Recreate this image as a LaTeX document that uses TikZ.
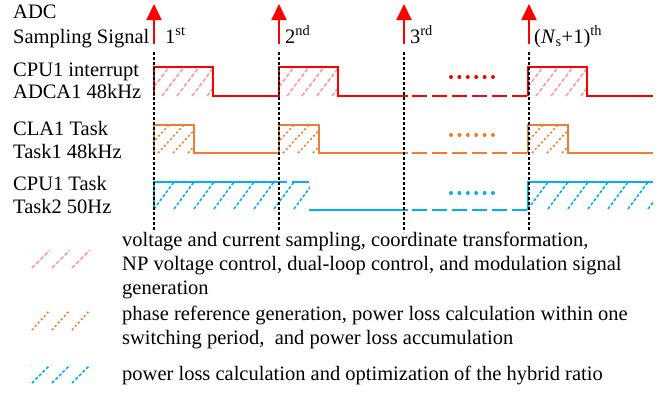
\documentclass[tikz,border=0pt]{standalone}
\usepackage{fontspec}
\setmainfont{Liberation Serif}
\usetikzlibrary{arrows.meta}
\definecolor{sigred}{HTML}{FF0000}
\definecolor{sigpink}{HTML}{FF9A9A}
\definecolor{sigorange}{HTML}{ED7D31}
\definecolor{sigblue}{HTML}{00B0F0}

% hatched area: style, left, top, right, bottom, spacing, slant
\newcommand{\hatchbox}[7]{%
  \begin{scope}
    \clip (#2,#3) rectangle (#4,#5);
    \pgfmathsetmacro\hfirst{#2-#7}
    \pgfmathsetmacro\hsecond{#2-#7+#6}
    \foreach \hx in {\hfirst,\hsecond,...,#4}
      \draw[#1] (\hx,#5) -- ++(#7,#3-#5);
  \end{scope}}

\begin{document}
\begin{tikzpicture}[x=1pt,y=-1pt,font=\fontsize{20.5}{24}\selectfont,
                    lbl/.style={anchor=base west,inner sep=0pt},
                    sig/.style={line width=2pt},
                    gap/.style={line width=2pt,dash pattern=on 15pt off 5pt},
                    tick/.style={black,line width=1.6pt,dash pattern=on 2.5pt off 2.5pt},
                    adc/.style={sigred,line width=2pt,-{Triangle[width=15pt,length=16pt]}},
                    redhatch/.style={sigpink,line width=1.6pt,dash pattern=on 4pt off 2pt},
                    orangehatch/.style={sigorange,line width=1.6pt,dash pattern=on 2pt off 2.5pt},
                    bluehatch/.style={sigblue,line width=1.6pt,dash pattern=on 3pt off 2pt}]
  \useasboundingbox (0,0) rectangle (672,392);

  % sampling instants
  \foreach \i/\x in {1/154,2/279,3/404,4/529} {
    \coordinate (a\i) at (\x,44);
    \coordinate (b\i) at (\x,4);
    \coordinate (c\i) at (\x,52);
    \coordinate (d\i) at (\x,232);
  }

  % hatched parts
  \hatchbox{redhatch}{154}{67}{213}{96}{15}{22}
  \hatchbox{redhatch}{279}{67}{338}{96}{15}{22}
  \hatchbox{redhatch}{528}{67}{587}{96}{15}{22}
  \hatchbox{orangehatch}{154}{125}{194}{153}{15}{26}
  \hatchbox{orangehatch}{279}{125}{319}{153}{15}{26}
  \hatchbox{orangehatch}{528}{125}{568}{153}{15}{26}
  \hatchbox{bluehatch}{154}{182}{310}{209}{20}{20}
  \hatchbox{bluehatch}{528}{182}{653}{209}{20}{20}

  % CPU1 interrupt
  \draw[sig,sigred] (154,96) -- (154,67) -- (213,67) -- (213,96) -- (279,96) -- (279,67)
        -- (338,67) -- (338,96) -- (408,96);
  \draw[gap,sigred] (412,96) -- (528,96);
  \draw[sig,sigred] (528,96) -- (528,67) -- (587,67) -- (587,96) -- (653,96);
  % CLA1 task
  \draw[sig,sigorange] (154,153) -- (154,125) -- (194,125) -- (194,153) -- (279,153) -- (279,125)
        -- (319,125) -- (319,153) -- (408,153);
  \draw[gap,sigorange] (412,153) -- (528,153);
  \draw[sig,sigorange] (528,153) -- (528,125) -- (568,125) -- (568,153) -- (653,153);
  % CPU1 task
  \draw[sig,sigblue] (154,209) -- (154,182) -- (287,182);
  \draw[sig,sigblue] (292,182) -- (309,182);
  \draw[sig,sigblue] (309,210) -- (408,210);
  \draw[gap,sigblue] (412,210) -- (528,210);
  \draw[sig,sigblue] (528,210) -- (528,182) -- (653,182);

  \foreach \k in {0,...,5} {
    \fill[sigred] (451+\k*8.4,77) circle (2pt);
    \fill[sigorange] (451+\k*8.4,135) circle (2pt);
    \fill[sigblue] (451+\k*8.4,193) circle (2pt);
  }

  \foreach \i in {1,...,4} {
    \draw[tick] (c\i) -- (d\i);
    \draw[adc] (a\i) -- (b\i);
  }

  % labels
  \node[lbl] (adc1) at (13,18) {ADC};
  \node[lbl] (adc2) at (13,43) {Sampling Signal};
  \node[lbl] (cpu1) at (13,76) {CPU1 interrupt};
  \node[lbl] (cpu2) at (13,98) {ADCA1 48kHz};
  \node[lbl] (cla1) at (13,135) {CLA1 Task};
  \node[lbl] (cla2) at (13,158) {Task1 48kHz};
  \node[lbl] (tsk1) at (13,190) {CPU1 Task};
  \node[lbl] (tsk2) at (13,213) {Task2 50Hz};

  \node[lbl] (n1) at (165,43) {1\textsuperscript{st}};
  \node[lbl] (n2) at (285,43) {2\textsuperscript{nd}};
  \node[lbl] (n3) at (410,43) {3\textsuperscript{rd}};
  \node[lbl] (n4) at (534,43) {(\textit{N}\textsubscript{s}+1)\textsuperscript{th}};

  % legend
  \hatchbox{redhatch}{30}{250}{90}{268}{20}{18}
  \hatchbox{orangehatch}{30}{310}{90}{330}{20}{18}
  \hatchbox{bluehatch}{30}{365}{90}{383}{20}{18}
  \node[lbl] (leg1) at (122,246) {voltage and current sampling, coordinate transformation,};
  \node[lbl] (leg2) at (122,270) {NP voltage control, dual-loop control, and modulation signal};
  \node[lbl] (leg3) at (122,294) {generation};
  \node[lbl] (leg4) at (122,320) {phase reference generation, power loss calculation within one};
  \node[lbl] (leg5) at (122,344) {switching period,~ and power loss accumulation};
  \node[lbl] (leg6) at (122,380) {power loss calculation and optimization of the hybrid ratio};
\end{tikzpicture}
\end{document}
